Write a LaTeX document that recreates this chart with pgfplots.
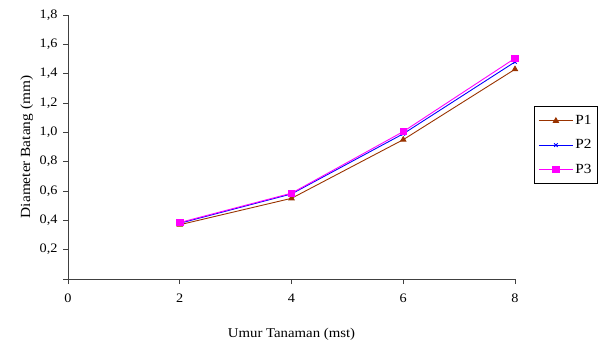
\documentclass[border=0pt]{standalone}
\usepackage{pgfplots}
\pgfplotsset{compat=1.18}
\usepackage{fontspec}
\setmainfont{Liberation Serif}[FakeStretch=1.1]
\definecolor{pone}{HTML}{993300}
\definecolor{ptwo}{HTML}{0000FF}
\definecolor{pthree}{HTML}{FF00FF}
\definecolor{axgray}{HTML}{404040}
\begin{document}
\begin{tikzpicture}[x=1bp,y=1bp]
\path[use as bounding box] (0,0) rectangle (600,340);
\begin{axis}[
  at={(68bp,61bp)}, anchor=origin,
  scale only axis, width=447bp, height=264bp,
  xmin=0, xmax=8, ymin=0, ymax=1.8,
  axis lines*=left,
  axis line style={axgray, line width=0.9pt, -},
  xtick={0,2,4,6,8},
  ytick={0,0.2,0.4,0.6,0.8,1.0,1.2,1.4,1.6,1.8},
  yticklabels={,0{,}2,0{,}4,0{,}6,0{,}8,1{,}0,1{,}2,1{,}4,1{,}6,1{,}8},
  tick align=outside, major tick length=5bp,
  tick style={axgray, line width=0.9pt},
  /pgf/number format/assume math mode=true,
  ticklabel style={font=\fontsize{13}{13}\selectfont},
  xticklabel style={yshift=-6bp},
  yticklabel style={xshift=-2bp},
  xlabel={Umur Tanaman (mst)},
  label style={font=\fontsize{13.5}{14}\selectfont},
  xlabel style={at={(axis description cs:0.5,0)}, anchor=base, yshift=-58bp},
  legend style={at={(1.0425,0.655)}, anchor=north west, draw=black, line width=0.9pt,
    font=\fontsize{14}{14}\selectfont, row sep=9.5bp, inner xsep=4bp, inner ysep=7bp},
  legend cell align=left,
  legend image code/.code={\draw[mark repeat=2,mark phase=2] plot coordinates {(0bp,0bp) (17bp,0bp) (34bp,0bp)};},
  clip=false,
]
\addplot[pone, line width=0.9pt, mark=triangle*, mark size=3bp, mark options={solid}] coordinates {(2,0.37) (4,0.55) (6,0.95) (8,1.43)};
\addlegendentry{P1}
\addplot[ptwo, line width=0.9pt, mark=x, mark size=2.5bp] coordinates {(2,0.38) (4,0.58) (6,0.99) (8,1.48)};
\addlegendentry{P2}
\addplot[pthree, line width=0.9pt, mark=square*, mark size=3.2bp] coordinates {(2,0.385) (4,0.585) (6,1.005) (8,1.505)};
\addlegendentry{P3}
\node[rotate=90, anchor=base, font=\fontsize{14}{14}\selectfont, inner sep=0pt] at (rel axis cs:-0.085,0.5) {Diameter Batang (mm)};
\end{axis}
\end{tikzpicture}
\end{document}
